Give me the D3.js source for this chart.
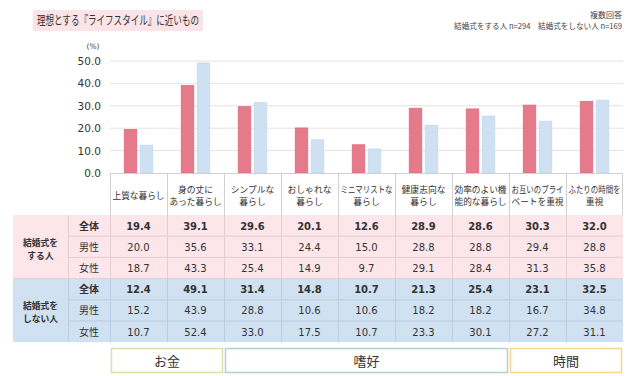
<!DOCTYPE html>
<html><head><meta charset="utf-8">
<script src="https://cdn.jsdelivr.net/npm/d3@7/dist/d3.min.js"></script>
<style>body{margin:0;background:#fff;}svg{display:block;}</style>
</head><body>
<script>
const categories = [
  ["上質な暮らし"],
  ["身の丈に","あった暮らし"],
  ["シンプルな","暮らし"],
  ["おしゃれな","暮らし"],
  ["ミニマリストな","暮らし"],
  ["健康志向な","暮らし"],
  ["効率のよい機","能的な暮らし"],
  ["お互いのプライ","ベートを重視"],
  ["ふたりの時間を","重視"]
];
const doAll = [19.4,39.1,29.6,20.1,12.6,28.9,28.6,30.3,32.0];
const doMale = [20.0,35.6,33.1,24.4,15.0,28.8,28.8,29.4,28.8];
const doFemale = [18.7,43.3,25.4,14.9,9.7,29.1,28.4,31.3,35.8];
const notAll = [12.4,49.1,31.4,14.8,10.7,21.3,25.4,23.1,32.5];
const notMale = [15.2,43.9,28.8,10.6,10.6,18.2,18.2,16.7,34.8];
const notFemale = [10.7,52.4,33.0,17.5,10.7,23.3,30.1,27.2,31.1];
const yTicks = [0,10,20,30,40,50];
const groupLabels = [["結婚式を","する人"],["結婚式を","しない人"]];
const rowLabels = ["全体","男性","女性"];
const bottomGroups = [
  {label:"お金", from:0, to:1, color:"#d6e0a8"},
  {label:"嗜好", from:2, to:6, color:"#b5cfd6"},
  {label:"時間", from:7, to:8, color:"#f5d68c"}
];

const W=638,H=376;
const svg=d3.select("body").append("svg").attr("width",W).attr("height",H);
const jp="'Noto Sans CJK JP','Noto Sans',sans-serif";
const num="'DejaVu Sans',Verdana,sans-serif";

function fit(sel,maxW){
  sel.each(function(){
    const w=this.getComputedTextLength();
    if(w>maxW){d3.select(this).attr("textLength",maxW).attr("lengthAdjust","spacingAndGlyphs");}
  });
}

// title
svg.append("rect").attr("x",33).attr("y",10).attr("width",170).attr("height",21).attr("fill","#fbe4e8");
fit(svg.append("text").attr("x",37).attr("y",25).attr("font-family",jp).attr("font-size",12.5).attr("fill","#333")
  .text("理想とする『ライフスタイル』に近いもの"),162);
svg.append("text").attr("x",622).attr("y",18).attr("text-anchor","end").attr("font-family",jp).attr("font-size",8).attr("fill","#444").text("複数回答");
svg.append("text").attr("x",622).attr("y",28.5).attr("text-anchor","end").attr("font-family",jp).attr("font-size",7.6).attr("fill","#444").text("結婚式をする人 n=294　結婚式をしない人 n=169");

const x0=110,x1=623;
const x=d3.scaleBand().domain(d3.range(categories.length)).range([x0,x1]);
const y=d3.scaleLinear().domain([0,50]).range([173,61]);

// grid
svg.append("g").selectAll("line").data(yTicks.filter(d=>d>0)).join("line")
  .attr("x1",x0).attr("x2",x1).attr("y1",d=>y(d)).attr("y2",d=>y(d)).attr("stroke","#e2e2e2").attr("stroke-width",1);
svg.append("g").selectAll("text").data(yTicks).join("text")
  .attr("x",101).attr("y",d=>y(d)+4).attr("text-anchor","end").attr("font-family",num).attr("font-size",10.5).attr("fill","#333")
  .text(d=>d.toFixed(1));
svg.append("text").attr("x",93).attr("y",49).attr("text-anchor","middle").attr("font-family",num).attr("font-size",7.5).attr("fill","#444").text("(%)");

// bars
const bw=12.5, gap=3.5;
const bars=svg.append("g");
bars.selectAll("rect.a").data(doAll).join("rect").attr("class","a")
  .attr("x",(d,i)=>x(i)+x.bandwidth()/2-gap/2-bw).attr("width",bw)
  .attr("y",d=>y(d)).attr("height",d=>y(0)-y(d))
  .attr("fill","#e57a8a").attr("stroke","#de6a7d").attr("stroke-width",0.8);
bars.selectAll("rect.b").data(notAll).join("rect").attr("class","b")
  .attr("x",(d,i)=>x(i)+x.bandwidth()/2+gap/2).attr("width",bw)
  .attr("y",d=>y(d)).attr("height",d=>y(0)-y(d))
  .attr("fill","#cfe0f2").attr("stroke","#c2d7ee").attr("stroke-width",0.8);

// axis baseline
svg.append("line").attr("x1",x0).attr("x2",x1).attr("y1",173.5).attr("y2",173.5).attr("stroke","#d0d0d0");

// header verticals
const hTop=173,hBot=215;
svg.append("g").selectAll("line").data(d3.range(categories.length+1)).join("line")
  .attr("x1",i=>i<categories.length?x(i)+0.5:x1-0.5).attr("x2",i=>i<categories.length?x(i)+0.5:x1-0.5)
  .attr("y1",hTop).attr("y2",hBot).attr("stroke","#d0d0d0");

// header labels
categories.forEach((lines,i)=>{
  const cx=x(i)+x.bandwidth()/2;
  lines.forEach((l,k)=>{
    fit(svg.append("text").attr("text-anchor","middle").attr("font-family",jp).attr("font-size",8.8).attr("fill","#333")
      .attr("x",cx).attr("y",(lines.length===1?199:192.5)+k*12.5).text(l),52);
  });
});

// table
const tL=13, c1=68, rowH=21.2, tTop=215;
const rowsData=[[doAll,doMale,doFemale],[notAll,notMale,notFemale]];
const bgs=["#fce6ea","#d0e1f2"];
const lineC=["#e6cdd2","#b9cde2"];
rowsData.forEach((grp,g)=>{
  const gy=tTop+g*3*rowH;
  svg.append("rect").attr("x",tL).attr("y",gy).attr("width",x1-tL).attr("height",3*rowH).attr("fill",bgs[g]);
  [1,2].forEach(r=>{
    svg.append("line").attr("x1",c1).attr("x2",x1).attr("y1",gy+r*rowH).attr("y2",gy+r*rowH).attr("stroke",lineC[g]).attr("stroke-width",1);
  });
  [c1,x0].concat(d3.range(1,categories.length).map(i=>x(i))).forEach(vx=>{
    svg.append("line").attr("x1",vx+0.5).attr("x2",vx+0.5).attr("y1",gy).attr("y2",gy+3*rowH).attr("stroke",lineC[g]);
  });
  groupLabels[g].forEach((l,k)=>{
    svg.append("text").attr("text-anchor","middle").attr("font-family",jp).attr("font-size",8.8).attr("font-weight","bold").attr("fill","#333")
      .attr("x",(tL+c1)/2).attr("y",gy+3*rowH/2-1+k*13).text(l);
  });
  grp.forEach((vals,r)=>{
    const ry=gy+r*rowH+rowH/2+4;
    svg.append("text").attr("x",(c1+x0)/2).attr("y",ry).attr("text-anchor","middle").attr("font-family",jp).attr("font-size",10)
      .attr("font-weight",r===0?"bold":"normal").attr("fill","#333").text(rowLabels[r]);
    vals.forEach((v,i)=>{
      svg.append("text").attr("x",x(i)+x.bandwidth()/2).attr("y",ry).attr("text-anchor","middle").attr("font-family",num).attr("font-size",10)
        .attr("font-weight",r===0?"bold":"normal").attr("fill","#333").text(v.toFixed(1));
    });
  });
});
svg.append("line").attr("x1",tL).attr("x2",x1).attr("y1",tTop+3*rowH).attr("y2",tTop+3*rowH).attr("stroke","#e0d0d6");

// bottom group boxes
bottomGroups.forEach(b=>{
  const bx=x(b.from)+1.5, bx2=x(b.to)+x.bandwidth()-1.5;
  svg.append("rect").attr("x",bx).attr("y",348.5).attr("width",bx2-bx).attr("height",24).attr("fill","#fff").attr("stroke",b.color).attr("stroke-width",1.5);
  svg.append("text").attr("x",(bx+bx2)/2).attr("y",366).attr("text-anchor","middle").attr("font-family",jp).attr("font-size",13).attr("fill","#333").text(b.label);
});
</script>
</body></html>
